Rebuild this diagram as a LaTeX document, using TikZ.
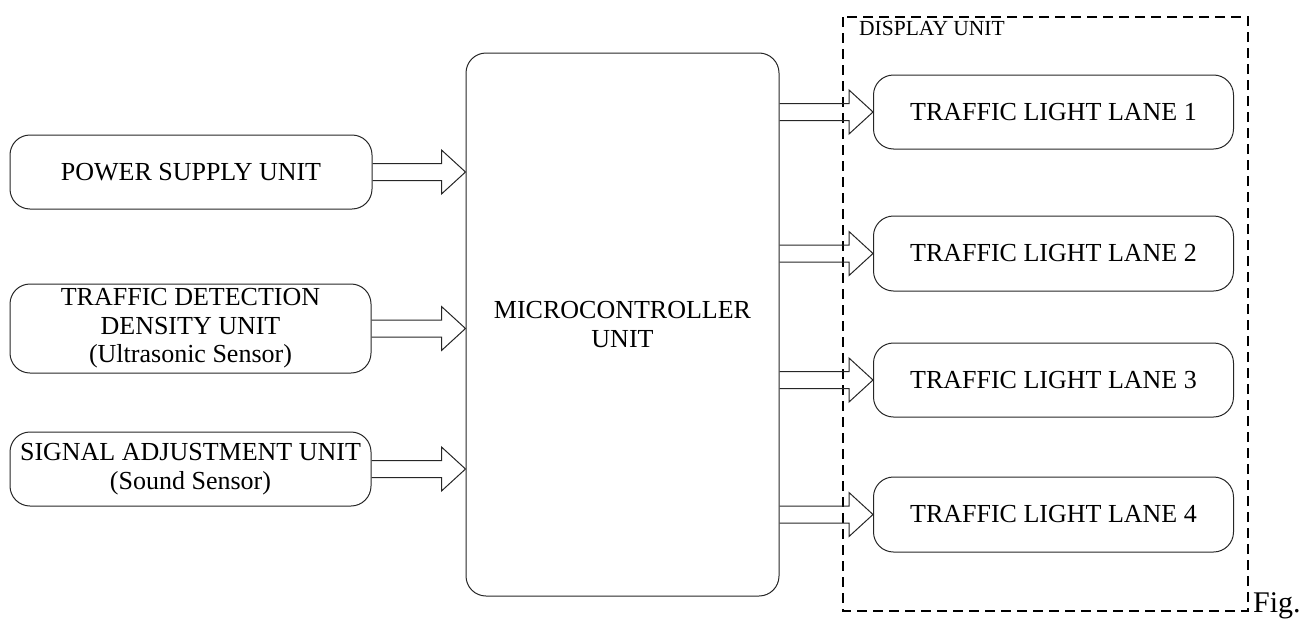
\documentclass[tikz,border=0pt]{standalone}
\usepackage{fontspec}
\setmainfont{Liberation Serif}
\usetikzlibrary{calc}
\tikzset{
  unitbox/.style={draw=black!85, line width=1pt, rounded corners=20pt, align=center,
    font=\fontsize{26}{28.5}\selectfont, inner sep=0pt},
  arrowline/.style={draw=black!85, line width=1pt, line join=miter},
  dispbox/.style={draw=black, line width=1.4pt, dash pattern=on 10pt off 6pt}
}
\newcommand\fatarrow[3]{%
  \draw[arrowline] let \p1=(#1.east), \p2=(#2.west), \p3=(#3.center) in
   (\x1,\y3+8.5pt) -- (\x2-24pt,\y3+8.5pt) -- (\x2-24pt,\y3+22pt) -- (\x2,\y3)
   -- (\x2-24pt,\y3-22pt) -- (\x2-24pt,\y3-8.5pt) -- (\x1,\y3-8.5pt);}
\begin{document}
\begin{tikzpicture}[x=1pt,y=-1pt]
\useasboundingbox (0,0) rectangle (1311,621);
\node[unitbox, minimum width=362pt, minimum height=74pt] (ps) at (191,172) {POWER SUPPLY UNIT};
\node[unitbox, minimum width=361pt, minimum height=89pt] (td) at (190.5,328.5) {TRAFFIC DETECTION\\DENSITY UNIT\\(Ultrasonic Sensor)};
\node[unitbox, minimum width=361pt, minimum height=74pt] (sa) at (190.5,469) {SIGNAL ADJUSTMENT UNIT\\(Sound Sensor)};
\node[unitbox, minimum width=313pt, minimum height=543pt] (mc) at (622.5,324.5) {MICROCONTROLLER\\UNIT};
\node[unitbox, minimum width=360pt, minimum height=74pt] (l1) at (1053.5,112) {TRAFFIC LIGHT LANE 1};
\node[unitbox, minimum width=360pt, minimum height=75pt] (l2) at (1053.5,253.5) {TRAFFIC LIGHT LANE 2};
\node[unitbox, minimum width=360pt, minimum height=74pt] (l3) at (1053.5,380) {TRAFFIC LIGHT LANE 3};
\node[unitbox, minimum width=360pt, minimum height=75pt] (l4) at (1053.5,514.5) {TRAFFIC LIGHT LANE 4};
\draw[dispbox] (843,17) rectangle (1248,611);
\node[anchor=base west, inner sep=0pt, font=\fontsize{21.5}{24}\selectfont] (du) at (859,35) {DISPLAY UNIT};
\node[anchor=base west, inner sep=0pt, font=\fontsize{30}{34}\selectfont] (fig) at (1253,612) {Fig.};
\fatarrow{ps}{mc}{ps}
\fatarrow{td}{mc}{td}
\fatarrow{sa}{mc}{sa}
\fatarrow{mc}{l1}{l1}
\fatarrow{mc}{l2}{l2}
\fatarrow{mc}{l3}{l3}
\fatarrow{mc}{l4}{l4}
\end{tikzpicture}
\end{document}
